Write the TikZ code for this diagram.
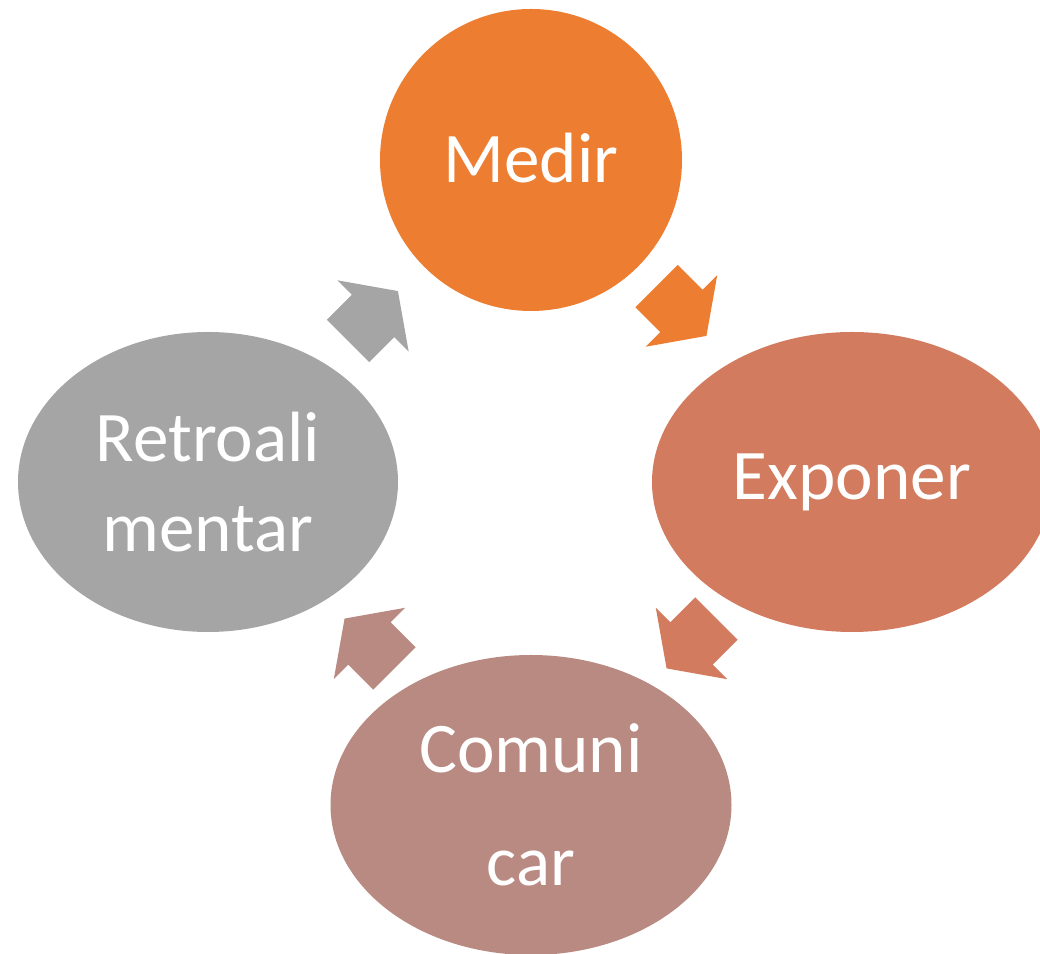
\documentclass[tikz,border=0pt]{standalone}
\usepackage{fontspec}
\setmainfont{Carlito}
\usetikzlibrary{shapes.geometric,calc}

\definecolor{cMedir}{HTML}{ED7D31}
\definecolor{cExponer}{HTML}{D27B5E}
\definecolor{cComunicar}{HTML}{B98A82}
\definecolor{cRetro}{HTML}{A5A5A5}

\begin{document}
\begin{tikzpicture}[
  stage/.style={inner sep=0pt,text=white,align=center,font=\fontsize{40.5}{51}\selectfont},
  oval/.style={stage,ellipse,minimum width=#1,minimum height=6cm}]
\useasboundingbox (0,0) rectangle (20.8,19.08);

\node [stage,circle,fill=cMedir,minimum size=6.04cm,text depth=0.1cm] (medir) at (10.62,15.88) {Medir};
\node [oval=8cm,fill=cExponer] (exponer) at (17.04,9.44) {Exponer};
\node [oval=8.02cm,fill=cComunicar] (comunicar) at (10.62,2.98) {Comuni\\[13pt]car};
\node [oval=7.6cm,fill=cRetro] (retro) at (4.16,9.44) {Retroali\\mentar};

% block arrows between the stages
\foreach \a/\b/\r/\c/\s in {medir/exponer/-45/cMedir/{-0.2,0.2},exponer/comunicar/-135/cExponer/{0,0},
                            comunicar/retro/135/cComunicar/{0,0},retro/medir/45/cRetro/{0.07,0.1}}
{
  \begin{scope}[shift={($(\a)!0.5!(\b)+(\s)$)},rotate=\r]
    \fill [\c] (-0.705,-0.6) -- (0,-0.6) -- (0,-1.01) -- (0.705,0)
      -- (0,1.01) -- (0,0.6) -- (-0.705,0.6) -- cycle;
  \end{scope}
}
\end{tikzpicture}
\end{document}
